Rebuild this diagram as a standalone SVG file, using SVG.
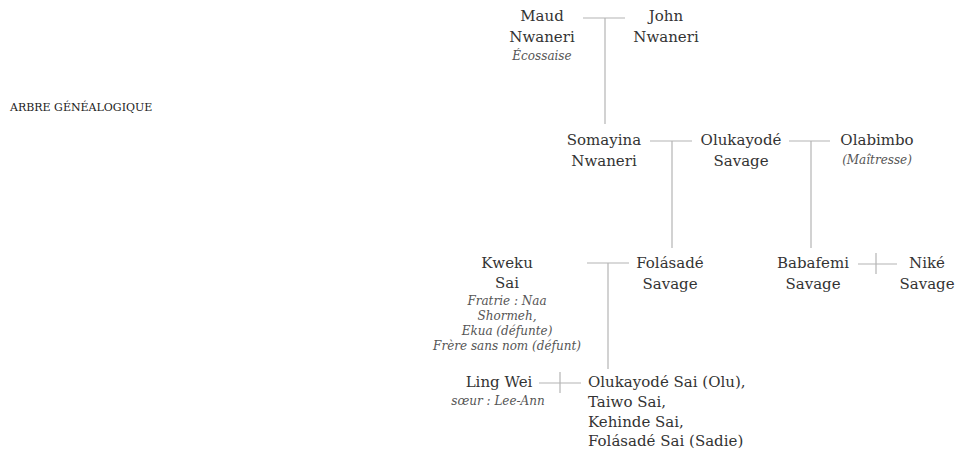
<svg xmlns="http://www.w3.org/2000/svg" width="957" height="451" viewBox="0 0 957 451">
<style>
.n{font-family:"DejaVu Serif","Liberation Serif",serif;font-size:15px;fill:#333;text-anchor:middle}
.l{text-anchor:start}
.i{font-family:"DejaVu Serif","Liberation Serif",serif;font-size:12px;font-style:italic;fill:#555;text-anchor:middle}
.t{font-family:"DejaVu Serif","Liberation Serif",serif;font-size:11px;fill:#1a1a1a}
.c line{stroke:#b4b4b4;stroke-width:1.2;fill:none}
</style>
<rect width="957" height="451" fill="#fff"/>
<text class="t" x="10" y="111">ARBRE GÉNÉALOGIQUE</text>
<g class="c" id="connectors">
<line x1="583" y1="18" x2="625" y2="18"/>
<line x1="605" y1="18" x2="605" y2="124"/>
<line x1="650" y1="141" x2="692" y2="141"/>
<line x1="672" y1="141" x2="672" y2="248"/>
<line x1="789" y1="141" x2="830" y2="141"/>
<line x1="811" y1="141" x2="811" y2="248"/>
<line x1="587" y1="263" x2="629" y2="263"/>
<line x1="608" y1="263" x2="608" y2="369"/>
<line x1="858" y1="264" x2="897" y2="264"/>
<line x1="876" y1="253" x2="876" y2="274"/>
<line x1="539" y1="383" x2="581" y2="383"/>
<line x1="560" y1="372" x2="560" y2="393"/>
</g>
<g id="maud"><text class="n" x="542" y="21">Maud</text><text class="n" x="542" y="42">Nwaneri</text><text class="i" x="542" y="60">Écossaise</text></g>
<g id="john"><text class="n" x="666" y="21">John</text><text class="n" x="666" y="42">Nwaneri</text></g>
<g id="somayina"><text class="n" x="604" y="145">Somayina</text><text class="n" x="604" y="166">Nwaneri</text></g>
<g id="olukayode"><text class="n" x="741" y="145">Olukayodé</text><text class="n" x="741" y="166">Savage</text></g>
<g id="olabimbo"><text class="n" x="877" y="145">Olabimbo</text><text class="i" x="877" y="164">(Maîtresse)</text></g>
<g id="kweku"><text class="n" x="507" y="268">Kweku</text><text class="n" x="507" y="288">Sai</text>
<text class="i" x="507" y="305">Fratrie : Naa</text><text class="i" x="507" y="320">Shormeh,</text><text class="i" x="507" y="335">Ekua (défunte)</text><text class="i" x="507" y="350">Frère sans nom (défunt)</text></g>
<g id="folasade"><text class="n" x="670" y="268">Folásadé</text><text class="n" x="670" y="289">Savage</text></g>
<g id="babafemi"><text class="n" x="813" y="268">Babafemi</text><text class="n" x="813" y="289">Savage</text></g>
<g id="nike"><text class="n" x="927" y="268">Niké</text><text class="n" x="927" y="289">Savage</text></g>
<g id="lingwei"><text class="n" x="499" y="387">Ling Wei</text><text class="i" x="498" y="405">sœur : Lee-Ann</text></g>
<g id="enfants"><text class="n l" x="588" y="387">Olukayodé Sai (Olu),</text><text class="n l" x="588" y="407">Taiwo Sai,</text><text class="n l" x="588" y="427">Kehinde Sai,</text><text class="n l" x="588" y="446">Folásadé Sai (Sadie)</text></g>
</svg>
